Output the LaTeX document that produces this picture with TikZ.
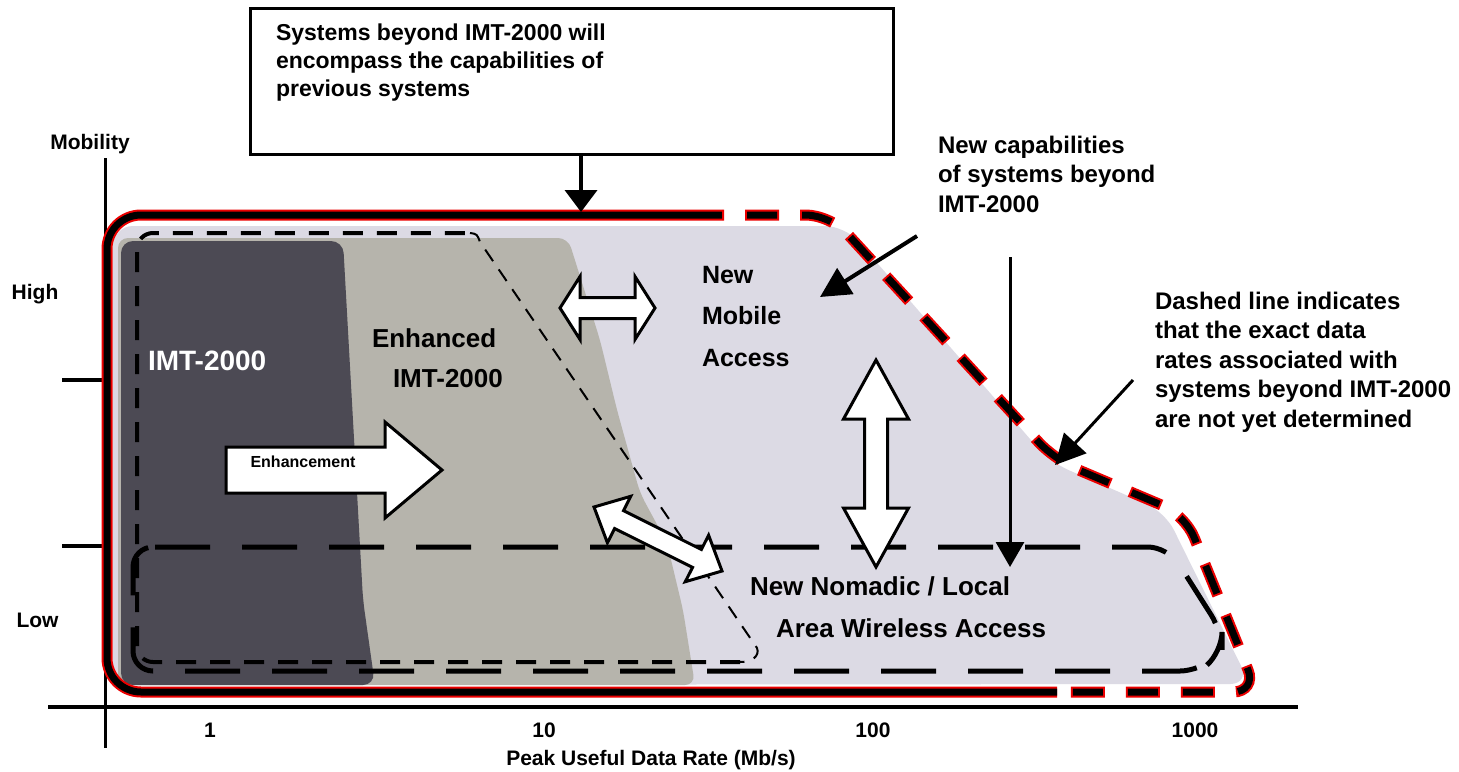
\documentclass[tikz,border=0pt]{standalone}
\usepackage{fontspec}
\setmainfont{Liberation Sans}
\usetikzlibrary{arrows.meta}
\definecolor{lightfill}{RGB}{220,218,228}
\definecolor{medfill}{RGB}{182,180,172}
\definecolor{darkfill}{RGB}{76,74,84}
\definecolor{outred}{RGB}{235,0,0}
\begin{document}
\begin{tikzpicture}[x=0.5pt,y=-0.5pt,
  every node/.style={inner sep=0pt, outer sep=0pt},
  axislbl/.style={font=\bfseries\fontsize{10.5}{12.6}\selectfont, anchor=base},
  calloutlbl/.style={font=\bfseries\fontsize{12}{14.75}\selectfont, anchor=base west, align=left},
  boxtxt/.style={font=\bfseries\fontsize{11.5}{14}\selectfont, anchor=base west, align=left},
  blockarrow/.style={draw=black, fill=white, line width=1.5pt, line join=miter},
  callout/.style={draw=black, line width=1.5pt, -{Triangle[length=15pt,width=15pt]}},
  outlinered/.style={draw=outred, line width=5.5pt, rounded corners=17pt},
  outlineblack/.style={draw=black, line width=3.5pt, rounded corners=17pt},
  shortdash/.style={draw=black, line width=2pt, dash pattern=on 10pt off 7pt},
  finedash/.style={draw=black, line width=1pt, dash pattern=on 7pt off 5pt},
  longdash/.style={draw=black, line width=2.5pt, dash pattern=on 27.5pt off 16pt},
]
\useasboundingbox[fill=white] (0,0) rectangle (1459,771);

% shaded regions
\fill[lightfill, rounded corners=10pt] (113,685) -- (113,226) -- (845,226) -- (1050,462) -- (1165,512) -- (1250,684) -- cycle;
\fill[medfill, rounded corners=5pt] (118,685) -- (118,238) -- (568,238) -- (600,340) -- (617,410) -- (640,493) -- (667,543) -- (683,610) -- (695,685) -- cycle;
\fill[darkfill, rounded corners=6pt] (121,685) -- (121,241) -- (343,241) -- (363,600) -- (375,685) -- cycle;

% enhanced IMT-2000 boundary
\draw[shortdash, rounded corners=8pt] (740,662) -- (137,662) -- (137,233) -- (470,233);
\draw[finedash] (470,233) .. controls (477,234) .. (480,242) -- (757,648) .. controls (760,656) and (752,662) .. (740,662);

% nomadic / local area boundary
\draw[longdash, rounded corners=10pt] (155,547) -- (1168,547) -- (1222,632) -- (1222,652) -- (1200,671) -- (133,671) -- (133,547) -- (155,547);

% axes
\draw[line width=1.5pt] (105,158) -- (105,748);
\draw[line width=2pt] (48,707) -- (1298,707);
\draw[line width=2pt] (62,380) -- (105,380);
\draw[line width=2pt] (62,546) -- (105,546);

% outer outline (solid part)
\draw[outlinered] (1057,692) -- (107,692) -- (107,215) -- (722,215);
\draw[outlineblack] (1057,692) -- (107,692) -- (107,215) -- (722,215);
% outer outline (dashed part)
\draw[draw=outred, line width=5.5pt, dash pattern=on 17pt off 10.5pt, dash phase=16pt, rounded corners=12pt]
  (722,215) -- (830,215) -- (1055,460) -- (1185,515) -- (1257,692) -- (1057,692);
\draw[draw=black, line width=3.5pt, dash pattern=on 15pt off 12.5pt, dash phase=15pt, rounded corners=12pt]
  (722,215) -- (830,215) -- (1055,460) -- (1185,515) -- (1257,692) -- (1057,692);

% block arrows
\draw[blockarrow] (226,447) -- (385,447) -- (385,422) -- (442,470) -- (385,518) -- (385,493) -- (226,493) -- cycle;
\draw[blockarrow] (560,308) -- (580,276.5) -- (580,297.5) -- (635,297.5) -- (635,276.5) -- (655,308) -- (635,339.5) -- (635,318.5) -- (580,318.5) -- (580,339.5) -- cycle;
\draw[blockarrow] (876,360) -- (908.5,419) -- (887.5,419) -- (887.5,508) -- (908.5,508) -- (876,567) -- (843.5,508) -- (864.5,508) -- (864.5,419) -- (843.5,419) -- cycle;
\draw[blockarrow] (594,507) -- (607.4,542.8) -- (614.6,528.5) -- (692.5,567.4) -- (685.3,581.7) -- (722,571) -- (708.6,535.2) -- (701.4,549.5) -- (623.5,510.6) -- (630.7,496.3) -- cycle;

% top box and arrow
\node[draw, line width=1.5pt, minimum width=321.5pt, minimum height=73pt, anchor=north west] (box) at (250,8) {};
\node[boxtxt] (boxtext) at (276,96) {Systems beyond IMT-2000 will\\encompass the capabilities of\\previous systems};
\coordinate (boxtip) at (581,212);
\draw[line width=2pt, -{Triangle[length=11pt,width=16pt]}] (box.south -| boxtip) -- (boxtip);

% callouts
\node[calloutlbl] (newcap) at (938,212) {New capabilities\\of systems beyond\\IMT-2000};
\coordinate (nc1) at (917,236);
\coordinate (nc2) at (820,297);
\draw[callout, line width=2pt] (nc1) -- (nc2);

\node[calloutlbl] (dashnote) at (1155,427) {Dashed line indicates\\that the exact data\\rates associated with\\systems beyond IMT-2000\\are not yet determined};
\coordinate (dn1) at (1133,380);
\coordinate (dn2) at (1055,465);
\draw[callout] (dn1) -- (dn2);

\coordinate (v1) at (1010,257);
\coordinate (v2) at (1010,567);
\draw[line width=1.5pt, -{Triangle[length=12.5pt,width=14pt]}] (v1) -- (v2);

% region labels
\node[font=\bfseries\fontsize{14}{16}\selectfont, text=white, anchor=base west] (imt) at (148,370) {IMT-2000};
\node[font=\bfseries\fontsize{13}{20}\selectfont, anchor=base west, align=left] (enh) at (372,387) {Enhanced\\\hspace*{10.5pt}IMT-2000};
\node[font=\bfseries\fontsize{12.5}{20.75}\selectfont, anchor=base west, align=left] (nma) at (702,366) {New\\Mobile\\Access};
\node[font=\bfseries\fontsize{13}{21}\selectfont, anchor=base west, align=left] (nomadic) at (750,637) {New Nomadic / Local\\\hspace*{13pt}Area Wireless Access};
\node[font=\bfseries\fontsize{8}{9.6}\selectfont, anchor=base] (enhtxt) at (303,467) {Enhancement};

% axis labels
\node[axislbl] (mob) at (90,149) {Mobility};
\node[axislbl] (high) at (35,299) {High};
\node[axislbl] (low) at (37.5,627) {Low};
\node[axislbl] (t1) at (210,737) {1};
\node[axislbl] (t10) at (544,737) {10};
\node[axislbl] (t100) at (873,737) {100};
\node[axislbl] (t1000) at (1195,737) {1000};
\node[axislbl] (xtitle) at (651,765) {Peak Useful Data Rate (Mb/s)};
\end{tikzpicture}
\end{document}
